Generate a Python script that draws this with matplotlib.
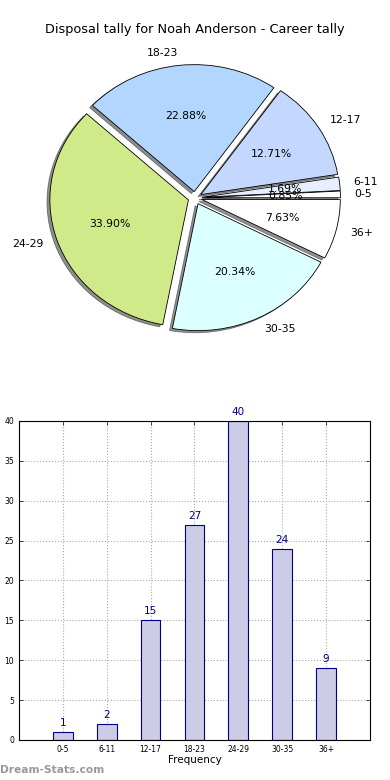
import numpy as np
import matplotlib
matplotlib.use('Agg')
import matplotlib.pyplot as plt

# Disposal tally data
categories = ['0-5', '6-11', '12-17', '18-23', '24-29', '30-35', '36+']
counts = [1, 2, 15, 27, 40, 24, 9]
pie_colors = ['#ffffff', '#e6eeff', '#c4d8ff', '#b3d6ff', '#d0ea8a', '#dcffff', '#ffffff']

fig = plt.figure(figsize=(3.9, 7.8), dpi=100)

###############################################################################
# Pie chart
ax1 = fig.add_axes([0.0346, 0.5346, 0.9308, 0.4233])
wedges, texts, autotexts = ax1.pie(counts, labels=categories, colors=pie_colors,
                                   explode=[0.05] * len(counts),
                                   shadow={'ox': -0.015, 'oy': -0.012, 'shade': 0.85},
                                   autopct='%1.2f%%', startangle=0,
                                   wedgeprops={'edgecolor': 'black', 'linewidth': 0.6},
                                   textprops={'fontsize': 7.8})
ax1.set_aspect('auto')
ax1.set_xlim(-1.31, 1.31)
ax1.set_ylim(-1.3, 1.3)
fig.text(0.5, 1 - 30 / 780., 'Disposal tally for Noah Anderson - Career tally',
         ha='center', va='center', fontsize=9.3)

###############################################################################
# Bar chart
ax2 = fig.add_axes([0.0487, 0.0513, 0.9, 0.409])
x = np.arange(len(categories))
ax2.bar(x, counts, width=0.45, color='#ccccE6', edgecolor='#000080', linewidth=0.8, zorder=2)
for xi, c in zip(x, counts):
    ax2.text(xi, c + 0.5, str(c), ha='center', va='bottom', fontsize=7.5, color='#000080')
ax2.set_xlim(-1, 7)
ax2.set_ylim(0, 40)
ax2.set_xticks(x)
ax2.set_xticklabels(categories)
ax2.set_yticks(np.arange(0, 41, 5))
ax2.tick_params(labelsize=5.5, direction='in', top=True, right=True, length=3, width=0.5)
ax2.grid(True, linestyle=':', color='#aaaaaa', linewidth=0.8, zorder=0)
ax2.set_axisbelow(True)
ax2.set_xlabel('Frequency', fontsize=7.5, labelpad=1)

fig.text(0.0, 1 - 770 / 780., 'Dream-Stats.com', ha='left', va='center',
         fontsize=7.7, color='#999999', fontweight='bold')

plt.savefig('out.png', dpi=100)
